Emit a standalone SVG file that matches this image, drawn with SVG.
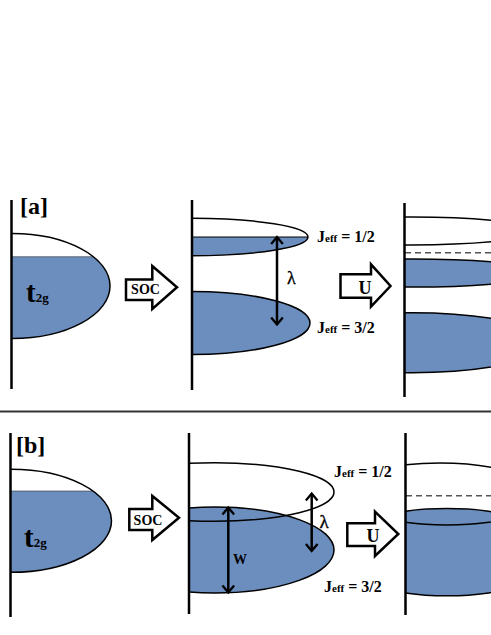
<svg xmlns="http://www.w3.org/2000/svg" width="491" height="635" viewBox="0 0 491 635">
<style>
.axis{stroke:#000;stroke-width:2.5;fill:none}
.ol{stroke:#000;stroke-width:1.5}
.blue{fill:#6b8ebf}
.nofill{fill:none}
.wht{fill:#fff}
.dash{stroke:#555;stroke-width:1.5;stroke-dasharray:6 4;fill:none}
.barrow{fill:#fff;stroke:#000;stroke-width:2.5;stroke-linejoin:miter}
.lbl{font-family:"Liberation Serif",serif;font-weight:bold;fill:#000}
.lam{font-family:"Liberation Serif",serif;fill:#000;stroke:#000;stroke-width:0.3}
.dbl{stroke:#000;stroke-width:2.5;fill:none;marker-start:url(#chev);marker-end:url(#chev)}
</style>
<defs>
<marker id="chev" markerUnits="userSpaceOnUse" markerWidth="14" markerHeight="14" refX="6" refY="5" viewBox="-1 -1 9 12" orient="auto-start-reverse">
<path d="M0,0 L6,5 L0,10" fill="none" stroke="#000" stroke-width="2"/>
</marker>
<clipPath id="cAL"><rect x="12" y="150" width="180" height="250"/></clipPath>
<clipPath id="cAM"><rect x="192" y="150" width="200" height="250"/></clipPath>
<clipPath id="cAR"><rect x="405" y="150" width="90" height="250"/></clipPath>
<clipPath id="cBL"><rect x="11" y="420" width="180" height="210"/></clipPath>
<clipPath id="cBM"><rect x="189" y="420" width="200" height="210"/></clipPath>
<clipPath id="cBR"><rect x="406" y="420" width="90" height="210"/></clipPath>
</defs>

<line x1="0" y1="411.5" x2="491" y2="411.5" stroke="#333" stroke-width="2"/>

<!-- Panel a -->
<g id="a-t2g">
<g clip-path="url(#cAL)">
<ellipse cx="12" cy="286" rx="98" ry="52.5" class="wht"/>
<path d="M12,256.7 L93.3,256.7 A98,52.5 0 0 1 12,338.5 Z" class="blue"/>
<line x1="12" y1="256.7" x2="93.3" y2="256.7" stroke="#333" stroke-width="0.6"/>
<ellipse cx="12" cy="286" rx="98" ry="52.5" class="ol nofill"/>
</g>
<line x1="11.5" y1="200" x2="11.5" y2="389" class="axis"/>
<text x="20" y="214" class="lbl" font-size="24">[a]</text>
<text x="26" y="302" class="lbl" font-size="29">t<tspan font-size="13">2g</tspan></text>
</g>

<g id="a-soc">
<polygon points="126,279.5 152.3,279.5 152.3,266 177,287.3 152.3,309 152.3,300 126,300" class="barrow"/>
<text x="145.5" y="294" class="lbl" font-size="14" text-anchor="middle">SOC</text>
</g>

<g id="a-jeff">
<g clip-path="url(#cAM)">
<ellipse cx="192" cy="237" rx="116" ry="18.7" class="wht"/>
<path d="M192,237 L308,237 A116,18.7 0 0 1 192,255.7 Z" class="blue"/>
<line x1="192" y1="237" x2="308" y2="237" stroke="#000" stroke-width="1"/>
<ellipse cx="192" cy="237" rx="116" ry="18.7" class="ol nofill"/>
<ellipse cx="192" cy="323" rx="118" ry="31.5" class="blue ol"/>
</g>
<line x1="192" y1="200" x2="192" y2="390" class="axis"/>
<text x="317" y="242" class="lbl" font-size="16">J<tspan font-size="11">eff</tspan> = 1/2</text>
<text x="317" y="333" class="lbl" font-size="16">J<tspan font-size="11">eff</tspan> = 3/2</text>
<text x="287" y="284" class="lam" font-size="18">λ</text>
</g>

<g id="a-u">
<polygon points="340.5,274.3 371,274.3 371,264.3 390.5,286 371,306.7 371,297.7 340.5,297.7" class="barrow"/>
<text x="365" y="294" class="lbl" font-size="18" text-anchor="middle">U</text>
</g>

<g id="a-hubbard">
<g clip-path="url(#cAR)">
<ellipse cx="412" cy="231" rx="125" ry="14" class="wht ol"/>
<line x1="405" y1="252.7" x2="491" y2="252.7" class="dash"/>
<ellipse cx="412" cy="273" rx="130" ry="14" class="blue ol"/>
<ellipse cx="412" cy="342.7" rx="135" ry="30" class="blue ol"/>
</g>
<line x1="404.5" y1="203" x2="404.5" y2="397" class="axis"/>
</g>

<!-- Panel b -->
<g id="b-t2g">
<g clip-path="url(#cBL)">
<ellipse cx="11" cy="520.8" rx="100.5" ry="51.5" class="wht"/>
<path d="M11,491 L93,491 A100.5,51.5 0 0 1 11,572.3 Z" class="blue"/>
<line x1="11" y1="491" x2="93" y2="491" stroke="#333" stroke-width="0.6"/>
<ellipse cx="11" cy="520.8" rx="100.5" ry="51.5" class="ol nofill"/>
</g>
<line x1="10.5" y1="433" x2="10.5" y2="617" class="axis"/>
<text x="16" y="453" class="lbl" font-size="24">[b]</text>
<text x="24" y="547" class="lbl" font-size="29">t<tspan font-size="13">2g</tspan></text>
</g>

<g id="b-soc">
<polygon points="129.3,509 152.3,509 152.3,496 179,517.7 152.3,540 152.3,530 129.3,530" class="barrow"/>
<text x="148" y="525" class="lbl" font-size="14" text-anchor="middle">SOC</text>
</g>

<g id="b-jeff">
<g clip-path="url(#cBM)">
<ellipse cx="215" cy="550" rx="119" ry="43" class="blue ol"/>
<ellipse cx="215" cy="492" rx="119" ry="29.3" class="ol nofill"/>
</g>
<line x1="189" y1="433" x2="189" y2="614" class="axis"/>
<text x="334" y="477" class="lbl" font-size="16">J<tspan font-size="11">eff</tspan> = 1/2</text>
<text x="324" y="592" class="lbl" font-size="16">J<tspan font-size="11">eff</tspan> = 3/2</text>
<text x="319.5" y="528" class="lam" font-size="19">λ</text>
<text x="240" y="563.5" class="lbl" font-size="14" text-anchor="middle">W</text>
</g>

<g id="b-u">
<polygon points="347.3,523.3 375,523.3 375,511.7 398.3,534 375,556 375,546 347.3,546" class="barrow"/>
<text x="373" y="541.7" class="lbl" font-size="18" text-anchor="middle">U</text>
</g>

<g id="b-hubbard">
<g clip-path="url(#cBR)">
<path d="M340,494 A100,31 0 0 1 540,494" class="ol nofill"/>
<line x1="406" y1="495.7" x2="491" y2="495.7" class="dash"/>
<ellipse cx="447" cy="587" rx="56" ry="8.7" class="blue ol"/>
<rect x="400" y="516.5" width="100" height="70.5" class="blue"/>
<ellipse cx="447" cy="516.8" rx="56" ry="8.2" class="blue ol"/>
</g>
<line x1="405.5" y1="433" x2="405.5" y2="615" class="axis"/>
</g>

<g id="connectors">
<line x1="277" y1="237" x2="277" y2="324.5" class="dbl"/>
<line x1="228.3" y1="507.5" x2="228.3" y2="592.5" class="dbl"/>
<line x1="311.7" y1="493.5" x2="311.7" y2="551" class="dbl"/>
</g>
</svg>
